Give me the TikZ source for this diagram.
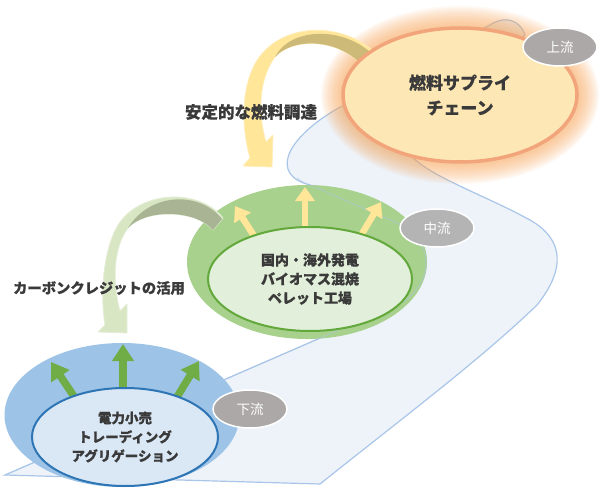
\documentclass[tikz,border=0pt]{standalone}
\usepackage{fontspec}
\setmainfont{Noto Sans CJK JP}[BoldFeatures={FakeBold=0.35}]
\usetikzlibrary{shapes.geometric,arrows.meta}
\definecolor{riverfill}{HTML}{EEF3FA}
\definecolor{riverline}{HTML}{A9C5E8}
\definecolor{glow}{HTML}{F7A860}
\definecolor{orfill}{HTML}{FDE7B4}
\definecolor{orline}{HTML}{F2A57A}
\definecolor{yarrow}{HTML}{FFE699}
\definecolor{yarrowdark}{HTML}{CDB978}
\definecolor{garrow}{HTML}{D9E6C4}
\definecolor{garrowdark}{HTML}{A8B494}
\definecolor{gout}{HTML}{A9D18E}
\definecolor{gin}{HTML}{E2EFDA}
\definecolor{gline}{HTML}{62A83A}
\definecolor{bout}{HTML}{9DC3E6}
\definecolor{bin}{HTML}{DAE8F5}
\definecolor{bline}{HTML}{2E75B6}
\definecolor{uparrowg}{HTML}{70AD47}
\definecolor{txt}{HTML}{3A3A3A}
\definecolor{tagg}{HTML}{ABA8A7}
\definecolor{tagm}{HTML}{B4B4B4}
\begin{document}
\begin{tikzpicture}[x=1pt,y=-1pt,
  tag/.style={ellipse, fill=tagg, draw=white, line width=1.5pt, inner sep=0pt,
    minimum width=74pt, minimum height=38pt, text=white,
    font=\fontsize{13.5}{16}\selectfont},
  oval/.style={ellipse, inner sep=0pt},
  bigtext/.style={text=txt, align=center},
  uparrowy/.style={draw=yarrow, line width=6.5pt, -{Triangle[width=19pt,length=14pt]}},
  uparrowgr/.style={draw=uparrowg, line width=7.5pt, -{Triangle[width=21pt,length=17pt]}},
  ribbon/.style={line width=0.8pt, line join=round}
]
\useasboundingbox (0,0) rectangle (604,489);
% river
\path[fill=riverfill, draw=riverline, line width=1.2pt]
  (5,475) -- (320,484) .. controls (400,420) and (480,360) .. (537,305)
  .. controls (565,270) and (565,240) .. (530,220)
  .. controls (490,198) and (440,180) .. (418,162)
  .. controls (405,152) and (405,145) .. (412,138) -- (525,35)
  .. controls (520,20) and (505,15) .. (490,25)
  -- (335,110) .. controls (285,140) and (270,175) .. (310,185)
  -- (395,222) .. controls (435,240) and (435,280) .. (403,302) -- cycle;
% glow
\foreach \i in {1,...,13}{
  \fill[glow, opacity=0.075] (460,95) ellipse [x radius={117pt+1.7pt*\i}, y radius={67pt+1.7pt*\i}];
}
% yellow curved arrow
\path[fill=yarrow, draw=yarrow!70!white, ribbon]
  (372,50) .. controls (340,22) and (280,22) .. (256,62)
  .. controls (240,90) and (242,130) .. (250,158) -- (243,166) -- (272,167) -- (273,135) -- (266,142)
  .. controls (258,115) and (258,80) .. (275,57)
  .. controls (292,38) and (335,38) .. (360,63) -- cycle;
\path[fill=yarrowdark]
  (275,57) .. controls (292,38) and (335,38) .. (360,63) -- (370,52)
  .. controls (340,26) and (290,28) .. (275,57) -- cycle;
% orange ellipse
\node[oval, fill=orfill, draw=orline, line width=3.5pt, minimum width=234pt, minimum height=134pt,
  bigtext, font=\bfseries\fontsize{17}{25}\selectfont] (supply) at (460,95) {燃料サプライ\\チェーン};
\node[tag] (up) at (560,47) {上流};
% green outer
\node[oval, fill=gout, minimum width=240pt, minimum height=154pt] (gouter) at (307,262) {};
% green curved arrow
\path[fill=garrow, draw=garrow!70!white, ribbon]
  (223,218) .. controls (200,188) and (140,190) .. (118,225)
  .. controls (103,250) and (100,295) .. (105,325) -- (98,332) -- (127,333) -- (127,304) -- (120,311)
  .. controls (113,285) and (112,250) .. (128,228)
  .. controls (145,209) and (195,209) .. (213,230) -- cycle;
\path[fill=garrowdark]
  (128,228) .. controls (145,209) and (195,209) .. (213,230) -- (222,219)
  .. controls (200,191) and (150,192) .. (128,228) -- cycle;
% blue outer
\node[oval, fill=bout, minimum width=235pt, minimum height=144pt] (bouter) at (122,415) {};
% faint river line over the ellipses
\draw[riverline, line width=1pt, opacity=0.5]
  (297,178) .. controls (302,182) and (306,184) .. (310,185)
  -- (395,222) .. controls (435,240) and (435,280) .. (403,302) -- (5,475);
% small arrows
\coordinate (ya1s) at (254,236); \coordinate (ya1e) at (235,206);
\coordinate (ya2s) at (305,230); \coordinate (ya2e) at (305,187);
\coordinate (ya3s) at (360,237); \coordinate (ya3e) at (381,202);
\draw[uparrowy] (ya1s) -- (ya1e);
\draw[uparrowy] (ya2s) -- (ya2e);
\draw[uparrowy] (ya3s) -- (ya3e);
\coordinate (ga1s) at (75,398); \coordinate (ga1e) at (51,362);
\coordinate (ga2s) at (123,390); \coordinate (ga2e) at (123,344);
\coordinate (ga3s) at (177,397); \coordinate (ga3e) at (199,361);
\draw[uparrowgr] (ga1s) -- (ga1e);
\draw[uparrowgr] (ga2s) -- (ga2e);
\draw[uparrowgr] (ga3s) -- (ga3e);
% inner ellipses
\node[oval, fill=gin, draw=gline, line width=2pt, minimum width=204pt, minimum height=104pt,
  bigtext, font=\bfseries\fontsize{14}{19}\selectfont] (ginner) at (310,279)
  {国内・海外発電\\バイオマス混焼\\ペレット工場};
\node[oval, fill=bin, draw=bline, line width=2pt, minimum width=186pt, minimum height=98pt,
  bigtext, font=\bfseries\fontsize{13.5}{19}\selectfont] (binner) at (125,437)
  {電力小売\\トレーディング\\アグリゲーション};
\node[tag, fill=tagm] (mid) at (437,228) {中流};
\node[tag] (down) at (250,409) {下流};
% labels
\node[bigtext, font=\bfseries\fontsize{16.5}{20}\selectfont] (lab1) at (251,112) {安定的な燃料調達};
\node[bigtext, font=\bfseries\fontsize{14.3}{18}\selectfont] (lab2) at (99,288) {カーボンクレジットの活用};
\end{tikzpicture}
\end{document}
